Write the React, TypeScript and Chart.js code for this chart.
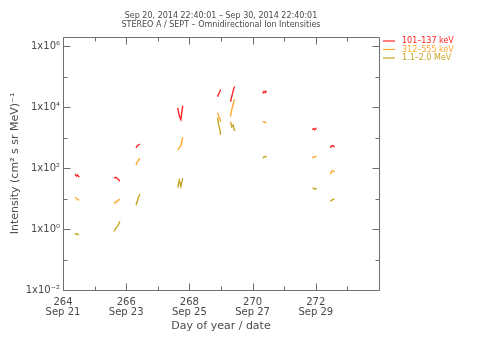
import React, { useEffect, useRef } from 'react';
import { Chart, registerables } from 'chart.js';

Chart.register(...registerables);

const titleLines = [
  'Sep 20, 2014 22:40:01 – Sep 30, 2014 22:40:01',
  'STEREO A / SEPT – Omnidirectional Ion Intensities',
];
const xAxisTitle = 'Day of year / date';
const yAxisTitle = 'Intensity (cm² s sr MeV)⁻¹';
const seriesLabels = ['101–137 keV', '312–555 keV', '1.1–2.0 MeV'];
const seriesColors = ['#ff2424', '#ffa830', '#c6a524'];
const xTickDays = [264, 266, 268, 270, 272];
const xTickDates = ['Sep 21', 'Sep 23', 'Sep 25', 'Sep 27', 'Sep 29'];
const yTickExponents = [-2, -1, 0, 1, 2, 3, 4, 5, 6];
const yLabelExponents = [-2, 0, 2, 4, 6];

const dayOfYear = [
  264.38, 264.42, 264.46, 264.51,
  265.61, 265.67, 265.74, 265.80,
  266.31, 266.35, 266.39, 266.43,
  267.63, 267.68, 267.73, 267.79,
  268.89, 268.92, 268.96, 268.99,
  269.30, 269.34, 269.38, 269.43,
  270.32, 270.36, 270.40, 270.44,
  271.89, 271.93, 271.97, 272.02,
  272.46, 272.50, 272.55, 272.59,
];
const flux101to137keV = [
  63, 55, 59, 50,
  47, 50, 44, 37,
  460, 540, 570, 620,
  9500, 5200, 3900, 11200,
  22000, 26000, 32000, 38000,
  15000, 22000, 33000, 48000,
  28000, 33000, 30000, 35000,
  1800, 1950, 1800, 2100,
  460, 540, 540, 490,
];
const flux312to555keV = [
  11, 10.2, 9.5, 8.7,
  6.9, 7.5, 8.7, 9.5,
  125, 158, 183, 213,
  400, 460, 540, 1040,
  6600, 5200, 4200, 3300,
  4900, 8300, 12000, 17800,
  3300, 3300, 3100, 3100,
  215, 230, 230, 250,
  63, 80, 80, 74,
];
const flux1p1to2p0MeV = [
  0.66, 0.71, 0.66, 0.66,
  0.83, 1.05, 1.3, 1.8,
  6, 8.1, 11, 13.8,
  23, 40, 25, 47,
  4500, 2800, 1950, 1230,
  3300, 2300, 2600, 1650,
  215, 230, 230, 250,
  22, 22, 20, 22,
  8.1, 8.7, 9.5, 9.5,
];

const FONT = "'DejaVu Sans', sans-serif";
const TEXT_COLOR = '#4a4a4a';
const AXIS_COLOR = '#6e6e6e';

const SUP: Record<string, string> = {
  '0': '⁰', '1': '¹', '2': '²', '3': '³', '4': '⁴',
  '5': '⁵', '6': '⁶', '7': '⁷', '8': '⁸', '9': '⁹', '-': '⁻',
};
const sup = (n: number) => String(n).split('').map((c) => SUP[c] || c).join('');

const decorPlugin = {
  id: 'decor',
  afterDraw(chart: any) {
    const { ctx, chartArea: a, scales } = chart;
    const xs = scales.x;
    const ys = scales.y;
    ctx.save();
    ctx.strokeStyle = AXIS_COLOR;
    ctx.lineWidth = 1;
    const L = Math.round(a.left) + 0.5;
    const R = Math.round(a.right) + 0.5;
    const T = Math.round(a.top) + 0.5;
    const B = Math.round(a.bottom) + 0.5;
    ctx.beginPath();
    ctx.rect(L, T, R - L, B - T);
    for (let d = 264; d <= 274; d++) {
      const px = Math.round(xs.getPixelForValue(d)) + 0.5;
      const len = d % 2 === 0 ? 7 : 4;
      ctx.moveTo(px, B);
      ctx.lineTo(px, B - len);
      ctx.moveTo(px, T);
      ctx.lineTo(px, T + len);
    }
    yTickExponents.forEach((e) => {
      const py = Math.round(ys.getPixelForValue(Math.pow(10, e))) + 0.5;
      const len = e % 2 === 0 ? 7 : 4;
      ctx.moveTo(L, py);
      ctx.lineTo(L + len, py);
      ctx.moveTo(R, py);
      ctx.lineTo(R - len, py);
    });
    ctx.stroke();

    const cx = (a.left + a.right) / 2;
    ctx.fillStyle = TEXT_COLOR;
    ctx.font = `8px ${FONT}`;
    ctx.textAlign = 'center';
    ctx.textBaseline = 'middle';
    ctx.fillText(titleLines[0], cx, 16);
    ctx.fillText(titleLines[1], cx, 25);

    ctx.textAlign = 'left';
    chart.data.datasets.forEach((ds: any, i: number) => {
      const y = 41 + i * 8.5;
      ctx.strokeStyle = ds.borderColor;
      ctx.lineWidth = 1.2;
      ctx.beginPath();
      ctx.moveTo(383, y);
      ctx.lineTo(395, y);
      ctx.stroke();
      ctx.fillStyle = ds.borderColor;
      ctx.fillText(ds.label, 402, y);
    });
    ctx.restore();
  },
};

export default function App() {
  const ref = useRef<HTMLCanvasElement | null>(null);
  useEffect(() => {
    if (!ref.current) return;
    const mk = (vals: number[]) => dayOfYear.map((d, i) => ({ x: d, y: vals[i] }));
    const series = [flux101to137keV, flux312to555keV, flux1p1to2p0MeV];
    const chart = new Chart(ref.current, {
      type: 'line',
      data: {
        datasets: series.map((vals, i) => ({
          label: seriesLabels[i],
          data: mk(vals),
          borderColor: seriesColors[i],
          backgroundColor: seriesColors[i],
          borderWidth: 1.4,
          pointRadius: 0,
          tension: 0,
          spanGaps: 0.3,
        })),
      },
      options: {
        responsive: false,
        animation: false,
        events: [],
        layout: { padding: { left: 0, top: 37, right: 101, bottom: 27 } },
        plugins: {
          legend: { display: false },
          title: { display: false },
          tooltip: { enabled: false },
        },
        scales: {
          x: {
            type: 'linear',
            min: 264,
            max: 274,
            grid: { display: false, drawTicks: false },
            border: { display: false },
            afterFit: (s: any) => { s.height = 43; },
            afterBuildTicks: (s: any) => {
              const t = [];
              for (let d = 264; d <= 274; d++) t.push({ value: d });
              s.ticks = t;
            },
            ticks: {
              autoSkip: false,
              maxRotation: 0,
              padding: 7,
              color: TEXT_COLOR,
              font: { family: FONT, size: 10, lineHeight: 1.0 },
              callback: (v: any) => {
                const k = xTickDays.indexOf(Number(v));
                return k >= 0 ? [String(xTickDays[k]), xTickDates[k]] : '';
              },
            },
            title: {
              display: true,
              text: xAxisTitle,
              color: TEXT_COLOR,
              font: { family: FONT, size: 11, lineHeight: 1.2 },
              padding: { top: 0, bottom: 0 },
            },
          },
          y: {
            type: 'logarithmic',
            min: 1e-2,
            max: 2e6,
            grid: { display: false, drawTicks: false },
            border: { display: false },
            afterFit: (s: any) => { s.width = 63; },
            afterBuildTicks: (s: any) => {
              s.ticks = yTickExponents.map((e) => ({ value: Math.pow(10, e) }));
            },
            ticks: {
              autoSkip: false,
              padding: 3,
              color: TEXT_COLOR,
              font: { family: FONT, size: 10 },
              callback: (v: any) => {
                const e = Math.round(Math.log10(Number(v)));
                return yLabelExponents.includes(e) ? '1x10' + sup(e) : '';
              },
            },
            title: {
              display: true,
              text: yAxisTitle,
              color: TEXT_COLOR,
              font: { family: FONT, size: 11, lineHeight: 1.2 },
              padding: { top: 8.5, bottom: 0 },
            },
          },
        },
      },
      plugins: [decorPlugin],
    } as any);
    return () => chart.destroy();
  }, []);
  return (
    <div style={{ position: 'fixed', left: 0, top: 0, width: 480, height: 360, background: '#fff' }}>
      <canvas ref={ref} width={480} height={360} style={{ display: 'block', width: 480, height: 360 }} />
    </div>
  );
}
